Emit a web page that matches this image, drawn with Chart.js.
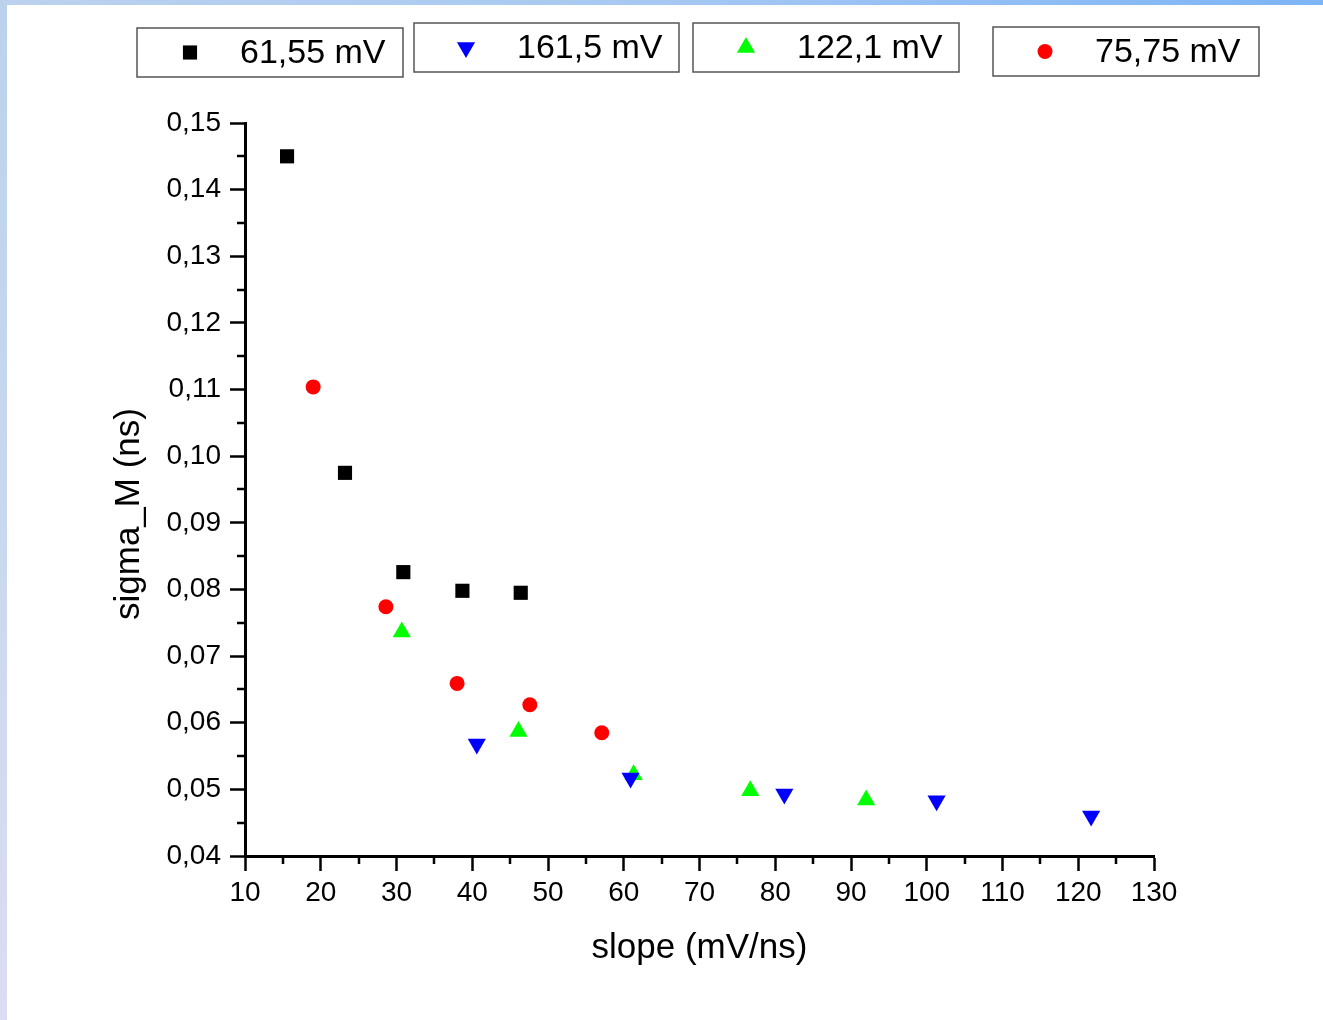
<!DOCTYPE html>
<html>
<head>
<meta charset="utf-8">
<script src="https://cdn.jsdelivr.net/npm/chart.js@4.4.0/dist/chart.umd.min.js"></script>
<style>
  html, body { margin: 0; padding: 0; background: #fff; }
  #wrap { position: relative; width: 1323px; height: 1020px; overflow: hidden; background: #fff; }
  #topbar { position: absolute; left: 0; top: 0; width: 1323px; height: 5px;
            background: linear-gradient(to right, #bcd2ee, #a6c8f2 50%, #7db4f6); }
  #leftbar { position: absolute; left: 0; top: 0; width: 7px; height: 1020px;
             background: linear-gradient(to bottom, #bcd2ec, #c8d8ee 50%, #dcdcf2); }
  #plot { position: absolute; left: 0; top: 0; }
</style>
</head>
<body>
<div id="wrap">
  <div id="topbar"></div>
  <div id="leftbar"></div>
  <canvas id="plot" width="1323" height="1020"></canvas>
</div>
<script>
// series: slope (mV/ns) and sigma_M (ns)
var labels = ["61,55 mV", "161,5 mV", "122,1 mV", "75,75 mV"];

var slope_61 = [15.55, 23.2, 30.9, 38.7, 46.4];
var sigma_61 = [0.1450, 0.0975, 0.0826, 0.0798, 0.0795];

var slope_161 = [40.6, 60.9, 81.2, 101.3, 121.7];
var sigma_161 = [0.0568, 0.0517, 0.0493, 0.0483, 0.0460];

var slope_122 = [30.7, 46.1, 61.3, 76.7, 92.0];
var sigma_122 = [0.0736, 0.0587, 0.0522, 0.0498, 0.0484];

var slope_75 = [19.0, 28.6, 38.0, 47.6, 57.1];
var sigma_75 = [0.1104, 0.0774, 0.0659, 0.0627, 0.0585];

var xTicksMinor = [15, 25, 35, 45, 55, 65, 75, 85, 95, 105, 115, 125];
var yTicksMinor = [0.045, 0.055, 0.065, 0.075, 0.085, 0.095, 0.105, 0.115, 0.125, 0.135, 0.145];

// legend boxes as placed in the figure
var legendBoxes = [
	{x: 137, y: 28, w: 266, h: 49, mx: 190, tx: 240},
	{x: 414, y: 23, w: 265, h: 49, mx: 466, tx: 517},
	{x: 693, y: 23, w: 266, h: 49, mx: 746, tx: 797},
	{x: 993, y: 27, w: 266, h: 49, mx: 1045, tx: 1095}
];

var FONT = "'Liberation Sans', Arial, sans-serif";

function toPoints(xs, ys) {
	let pts = [];
	for (let i = 0; i < xs.length; i++) {
		pts.push({x: xs[i], y: ys[i]});
	}
	return pts;
}

var extras = {
	id: 'extras',
	afterDraw(chart) {
		const ctx = chart.ctx;
		const xs = chart.scales.x, ys = chart.scales.y;
		const area = chart.chartArea;

		// minor ticks
		ctx.save();
		ctx.strokeStyle = '#000';
		ctx.lineWidth = 2.5;
		ctx.beginPath();
		for (let v of xTicksMinor) {
			const px = Math.round(xs.getPixelForValue(v));
			ctx.moveTo(px, area.bottom);
			ctx.lineTo(px, area.bottom + 8);
		}
		for (let v of yTicksMinor) {
			const py = Math.round(ys.getPixelForValue(v));
			ctx.moveTo(area.left, py);
			ctx.lineTo(area.left - 8, py);
		}
		ctx.stroke();

		// y axis title
		ctx.fillStyle = '#000';
		ctx.font = "35px " + FONT;
		ctx.textAlign = 'center';
		ctx.textBaseline = 'middle';
		ctx.translate(129, 514);
		ctx.rotate(-Math.PI / 2);
		ctx.fillText('sigma_M (ns)', 0, 0);
		ctx.restore();

		// legend
		ctx.save();
		chart.data.datasets.forEach(function (ds, i) {
			const b = legendBoxes[i];
			const cy = b.y + b.h / 2;
			ctx.fillStyle = '#fff';
			ctx.fillRect(b.x, b.y, b.w, b.h);
			ctx.strokeStyle = '#555';
			ctx.lineWidth = 1.5;
			ctx.strokeRect(b.x, b.y, b.w, b.h);
			ctx.fillStyle = ds.pointBackgroundColor;
			ctx.strokeStyle = ds.pointBackgroundColor;
			Chart.helpers.drawPoint(ctx, {
				pointStyle: ds.pointStyle,
				radius: ds.pointRadius,
				rotation: ds.pointRotation || 0,
				borderWidth: 0
			}, b.mx, cy);
			ctx.fillStyle = '#000';
			ctx.font = "34px " + FONT;
			ctx.textAlign = 'left';
			ctx.textBaseline = 'middle';
			ctx.fillText(ds.label, b.tx, cy + 1);
		});
		ctx.restore();
	}
};

var ctx = document.getElementById('plot').getContext('2d');
var scatterChart = new Chart(ctx, {
	type: 'scatter',
	data: {
		datasets: [
			{label: labels[0], data: toPoints(slope_61, sigma_61), pointStyle: 'rect', pointRadius: 10,
			 pointBackgroundColor: '#000000', pointBorderWidth: 0},
			{label: labels[1], data: toPoints(slope_161, sigma_161), pointStyle: 'triangle', pointRotation: 180, pointRadius: 10.5,
			 pointBackgroundColor: '#0000ff', pointBorderWidth: 0},
			{label: labels[2], data: toPoints(slope_122, sigma_122), pointStyle: 'triangle', pointRadius: 10.5,
			 pointBackgroundColor: '#00ff00', pointBorderWidth: 0},
			{label: labels[3], data: toPoints(slope_75, sigma_75), pointStyle: 'circle', pointRadius: 7.5,
			 pointBackgroundColor: '#ff0000', pointBorderWidth: 0}
		]
	},
	options: {
		responsive: false,
		animation: false,
		events: [],
		layout: {padding: {left: 0, top: 123, right: 169, bottom: 0}},
		plugins: {legend: {display: false}, tooltip: {enabled: false}},
		scales: {
			x: {
				type: 'linear', min: 10, max: 130,
				afterFit: function (scale) { scale.height = 164; },
				ticks: {stepSize: 10, color: '#000', padding: 5, font: {family: FONT, size: 28}},
				grid: {drawOnChartArea: false, drawTicks: true, tickLength: 15, tickWidth: 2.5, tickColor: '#000'},
				border: {display: true, color: '#000', width: 3},
				title: {display: true, text: 'slope (mV/ns)', color: '#000', font: {family: FONT, size: 35},
					padding: {top: 0, bottom: 51}}
			},
			y: {
				type: 'linear', min: 0.04, max: 0.15,
				afterFit: function (scale) { scale.width = 245; },
				ticks: {
					stepSize: 0.01, color: '#000', padding: 9, font: {family: FONT, size: 28},
					callback: function (v) { return v.toFixed(2).replace('.', ','); }
				},
				grid: {drawOnChartArea: false, drawTicks: true, tickLength: 15, tickWidth: 2.5, tickColor: '#000'},
				border: {display: true, color: '#000', width: 3}
			}
		}
	},
	plugins: [extras]
});
</script>
</body>
</html>
